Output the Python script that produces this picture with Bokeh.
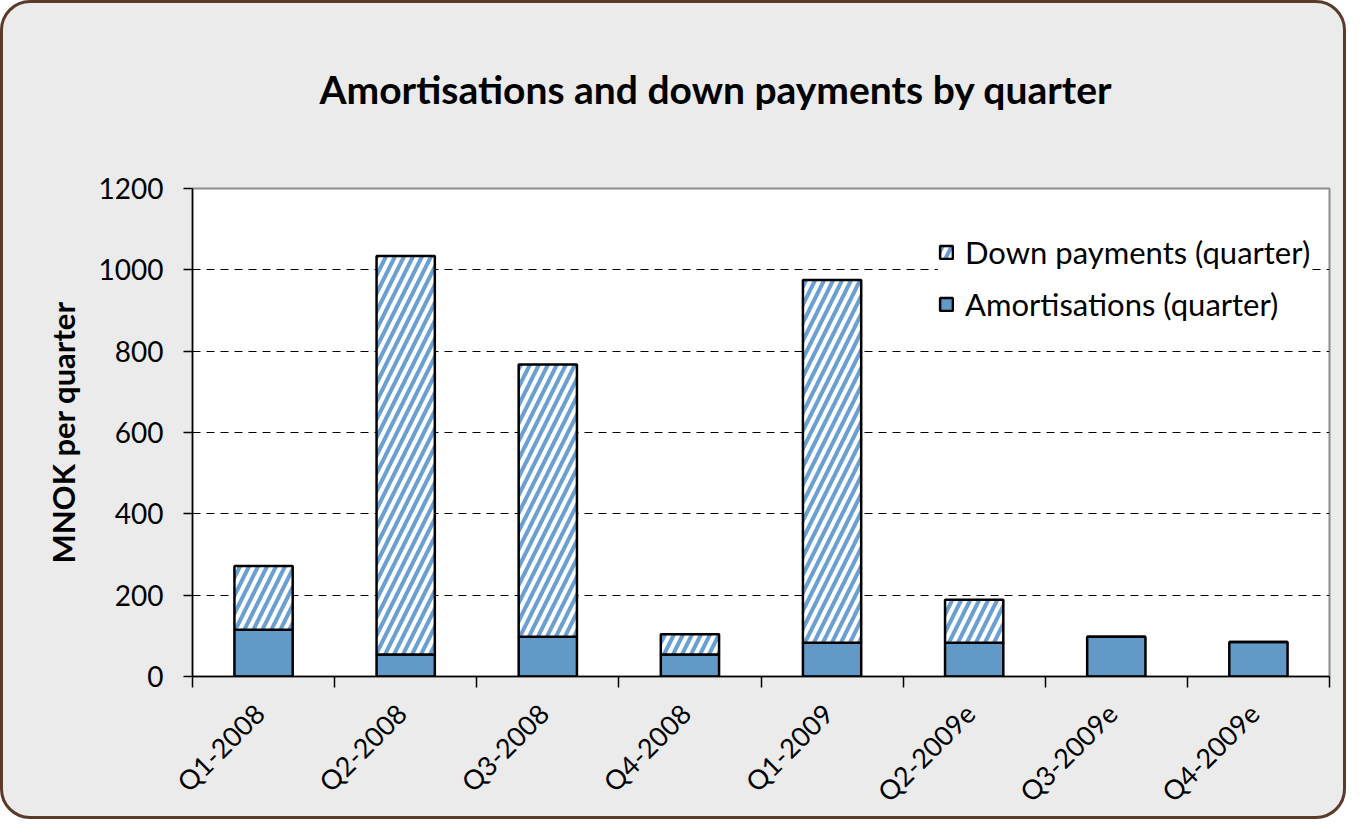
from bokeh.plotting import figure
from bokeh.models import FixedTicker, Title, Legend, LegendItem, ColumnDataSource, Range1d
from bokeh.embed import file_html
from bokeh.resources import INLINE

quarters = ["Q1-2008", "Q2-2008", "Q3-2008", "Q4-2008",
            "Q1-2009", "Q2-2009e", "Q3-2009e", "Q4-2009e"]
amortisations = [115, 54, 98, 54, 83, 83, 98, 85]
down_payments = [157, 980, 669, 50, 892, 106, 0, 0]
y_ticks = [0, 200, 400, 600, 800, 1000, 1200]

xs = list(range(len(quarters)))
totals = [a + d for a, d in zip(amortisations, down_payments)]
src = ColumnDataSource(dict(x=xs, amort=amortisations, down=down_payments, total=totals))

FONT = "Lato"
LABEL_SHIFT = 0.03  # rotated labels end just left of the category centre

p = figure(width=1346, height=819, output_backend="svg", toolbar_location=None,
           x_range=Range1d(-0.5, len(quarters) - 0.5), y_range=Range1d(0, 1200),
           min_border_left=189, min_border_right=20, min_border_top=185, min_border_bottom=144,
           background_fill_color="white", border_fill_alpha=0,
           outline_line_color="#8c8c8c", outline_line_width=2,
           styles={"border": "3px solid #5b3a29", "border-radius": "30px",
                   "background-color": "#ebebeb", "overflow": "hidden"})

# spacer + title
p.add_layout(Title(text=" ", text_font_size="10px", standoff=64), "above")
p.add_layout(Title(text="Amortisations and down payments by quarter", align="left", offset=127,
                   text_font=FONT, text_font_size="39px", text_font_style="bold",
                   text_color="black", standoff=0), "above")

amort_r = p.vbar(x="x", bottom=0, top="amort", width=0.41, source=src,
                 fill_color="#6399c7", line_color="black", line_width=2.5)
down_r = p.vbar(x="x", bottom="amort", top="total", width=0.41, source=src,
                fill_color="white", hatch_pattern="/", hatch_color="#6a9fd2",
                hatch_scale=18, hatch_weight=4,
                line_color="black", line_width=2.5)

# axes
label_pos = [i - LABEL_SHIFT for i in xs]
xa = p.xaxis[0]
xa.ticker = FixedTicker(ticks=label_pos, minor_ticks=[i - 0.5 for i in range(len(quarters) + 1)])
xa.major_label_overrides = {lp: q for lp, q in zip(label_pos, quarters)}
xa.major_tick_out = 0
xa.major_tick_in = 0
xa.minor_tick_out = 11
xa.minor_tick_in = 0
xa.minor_tick_line_color = "black"
xa.minor_tick_line_width = 1.5
xa.axis_line_color = "black"
xa.axis_line_width = 1.5
xa.major_label_orientation = 0.785398
xa.major_label_standoff = 21
xa.major_label_text_font = FONT
xa.major_label_text_font_size = "27px"
xa.major_label_text_color = "black"

ya = p.yaxis[0]
ya.ticker = FixedTicker(ticks=y_ticks)
ya.major_tick_out = 9
ya.major_tick_in = 0
ya.minor_tick_out = 0
ya.minor_tick_in = 0
ya.major_tick_line_color = "black"
ya.major_tick_line_width = 1.5
ya.axis_line_color = "black"
ya.axis_line_width = 1.5
ya.major_label_standoff = 20
ya.major_label_text_font = FONT
ya.major_label_text_font_size = "28px"
ya.major_label_text_color = "black"
ya.axis_label = "MNOK per quarter"
ya.axis_label_text_font = FONT
ya.axis_label_text_font_size = "31px"
ya.axis_label_text_font_style = "bold"
ya.axis_label_text_color = "black"
ya.axis_label_standoff = 14

p.xgrid.visible = False
p.ygrid.grid_line_color = "black"
p.ygrid.grid_line_dash = "8 6"
p.ygrid.grid_line_width = 1

legend = Legend(items=[LegendItem(label="Down payments (quarter)", renderers=[down_r]),
                       LegendItem(label="Amortisations (quarter)", renderers=[amort_r])],
                location=(746, 353), orientation="vertical",
                border_line_color=None, background_fill_color="white", background_fill_alpha=1,
                padding=12, margin=0, spacing=14, glyph_width=16, glyph_height=16,
                label_height=38, label_standoff=11,
                label_text_font=FONT, label_text_font_size="31px", label_text_color="black")
p.add_layout(legend, "center")

open("out.html", "w").write(file_html(p, INLINE))
